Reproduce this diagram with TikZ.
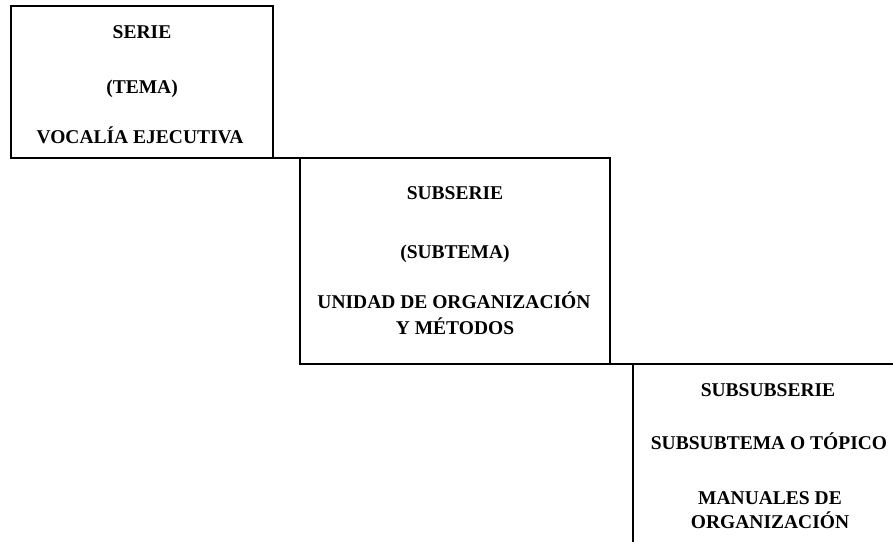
\documentclass[tikz,border=0pt]{standalone}
\usepackage{fontspec}
\setmainfont{Liberation Serif}
\begin{document}
\begin{tikzpicture}[x=1pt,y=-1pt,
  boxA/.style={draw=black,line width=2.2pt,inner sep=0pt,outer sep=0pt},
  lbl/.style={font=\bfseries\fontsize{19.5}{21}\selectfont,anchor=base,inner sep=0pt,text=black},
  link/.style={draw=black,line width=2.2pt}]
\useasboundingbox (0,0) rectangle (893,541);
\clip (0,0) rectangle (893,541);
% boxes
\node[boxA,minimum width=262pt,minimum height=152pt] (b1) at (142,82) {};
\node[boxA,minimum width=310pt,minimum height=206pt] (b2) at (455,261) {};
\node[boxA,minimum width=280pt,minimum height=200pt,line width=1.8pt] (b3) at (773,464) {};
% connecting steps
\draw[link] (b1.south east) -- (b2.north west);
\draw[link] (b2.south east) -- (b3.north west);
% texts box 1
\node[lbl] (t11) at (142,38) {SERIE};
\node[lbl] (t12) at (142,93) {(TEMA)};
\node[lbl] (t13) at (140,143) {VOCALÍA EJECUTIVA};
% texts box 2
\node[lbl] (t21) at (455,199) {SUBSERIE};
\node[lbl] (t22) at (455,258) {(SUBTEMA)};
\node[lbl] (t23) at (454,308) {UNIDAD DE ORGANIZACIÓN};
\node[lbl] (t24) at (455,334) {Y MÉTODOS};
% texts box 3
\node[lbl] (t31) at (768,396) {SUBSUBSERIE};
\node[lbl] (t32) at (769,449) {SUBSUBTEMA O TÓPICO};
\node[lbl] (t33) at (770,504) {MANUALES DE};
\node[lbl] (t34) at (770,528) {ORGANIZACIÓN};
\end{tikzpicture}
\end{document}
